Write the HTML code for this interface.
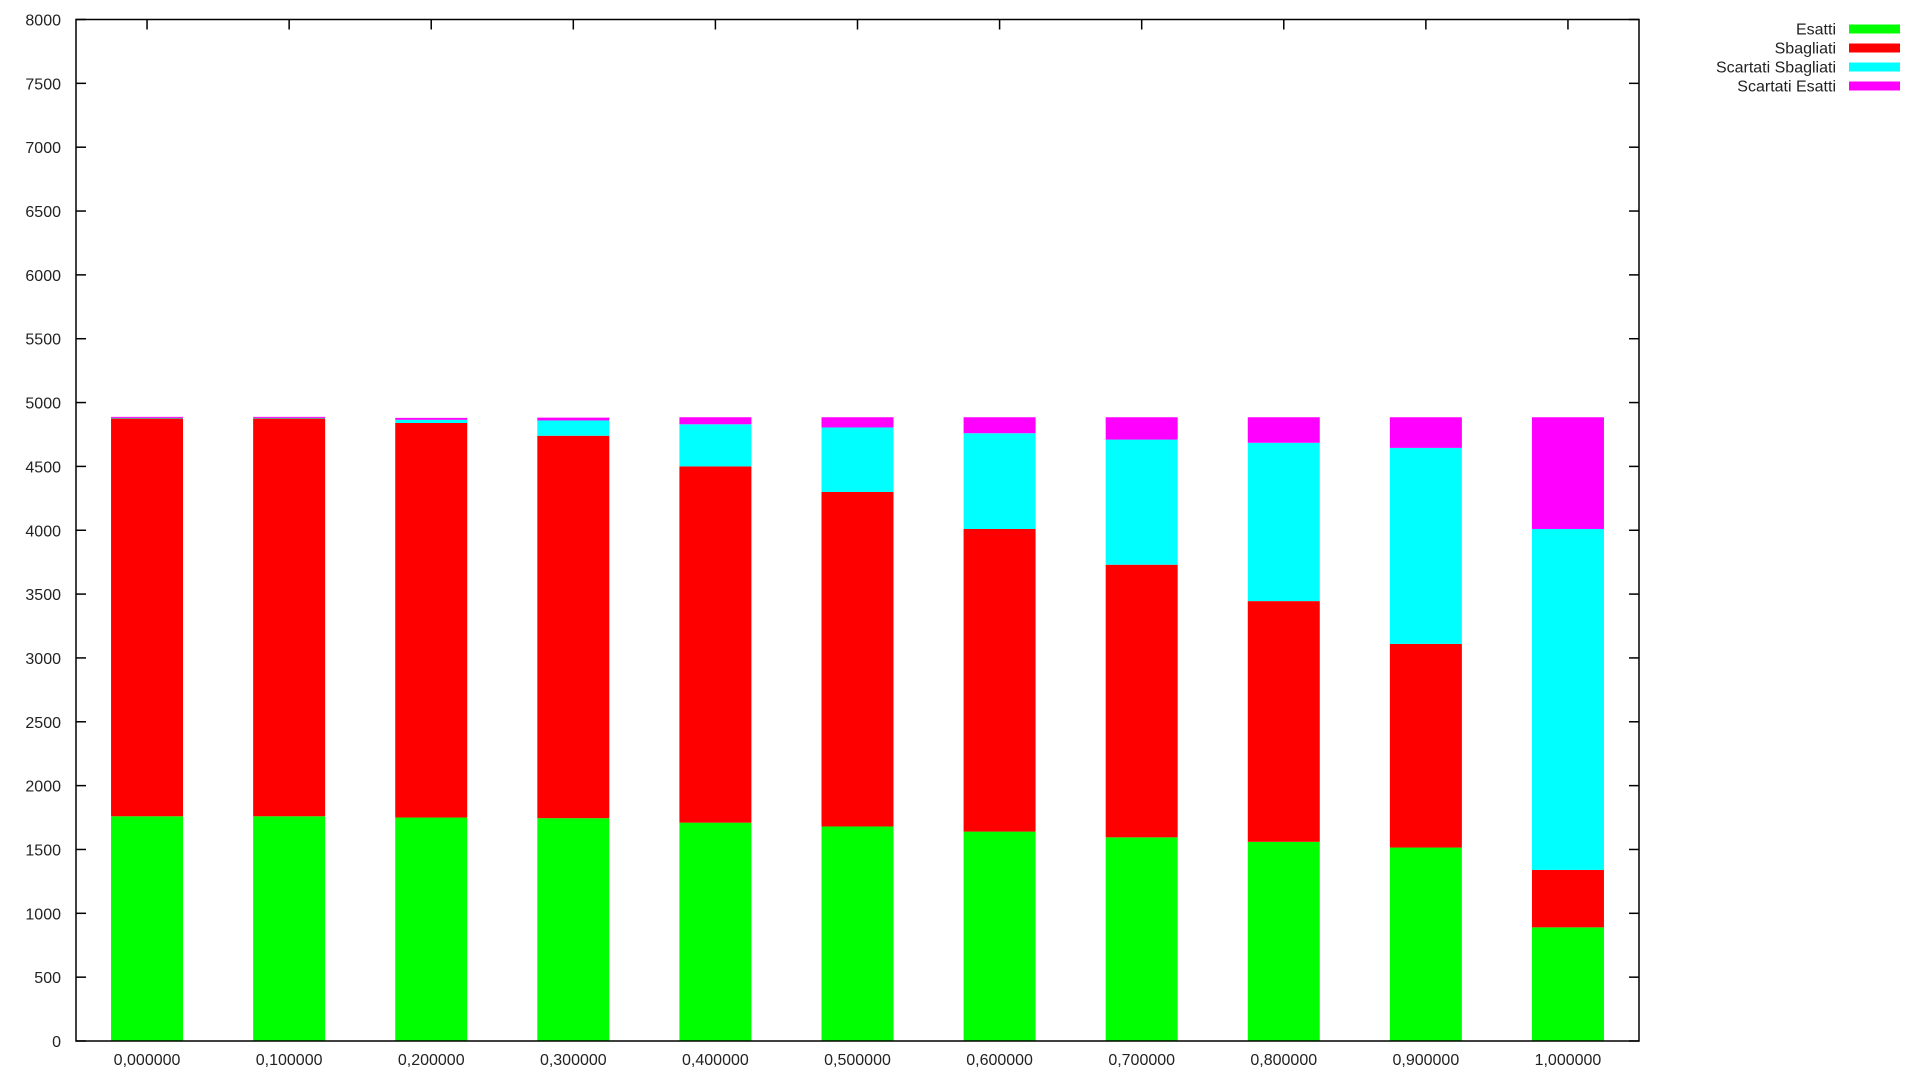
<!DOCTYPE html>
<html><head><meta charset="utf-8"><style>
body{margin:0;background:#fff;width:1920px;height:1080px;overflow:hidden}
svg text{font-family:"Liberation Sans",sans-serif;font-size:16px;fill:#222}
</style></head><body>
<svg id="chart" width="1920" height="1080" xmlns="http://www.w3.org/2000/svg">
<g id="axes"></g><g id="bars"></g><g id="legend"></g>
<rect x="76" y="19.5" width="1563" height="1021.5" fill="none" stroke="#000" stroke-width="1.5"/>
</svg>
<script>
const categories = ["0,000000","0,100000","0,200000","0,300000","0,400000","0,500000","0,600000","0,700000","0,800000","0,900000","1,000000"];
const esatti = [1760,1760,1750,1745,1710,1680,1640,1595,1560,1515,890];
const sbagliati = [3115,3115,3090,2995,2790,2620,2370,2135,1885,1595,450];
const scartatiSbagliati = [5,5,25,120,330,505,750,980,1240,1535,2670];
const scartatiEsatti = [8,8,15,22,55,80,125,175,200,240,875];
const yTicks = [0,500,1000,1500,2000,2500,3000,3500,4000,4500,5000,5500,6000,6500,7000,7500,8000];
const seriesNames = ["Esatti","Sbagliati","Scartati Sbagliati","Scartati Esatti"];
const seriesColors = ["#00ff00","#ff0000","#00ffff","#ff00ff"];
const series = [esatti,sbagliati,scartatiSbagliati,scartatiEsatti];

const L=76,R=1639,T=19.5,B=1041,YMAX=8000;
const band=(R-L)/categories.length, bw=72;
const y=v=>B-v*(B-T)/YMAX;
const xc=i=>L+band*(i+0.5);
const NS="http://www.w3.org/2000/svg";
function mk(tag,attrs,parent){const e=document.createElementNS(NS,tag);for(const k in attrs)e.setAttribute(k,attrs[k]);parent.appendChild(e);return e;}
const axes=document.getElementById('axes'),bars=document.getElementById('bars'),leg=document.getElementById('legend');
yTicks.forEach(t=>{
  const yy=y(t);
  let l=mk('line',{x1:L,x2:L+10,y1:yy,y2:yy,stroke:'#000','stroke-width':1.5},axes);
  
  
  l=mk('line',{x1:R-10,x2:R,y1:yy,y2:yy,stroke:'#000','stroke-width':1.5},axes);
  
  
  const tx=mk('text',{x:L-15,y:yy+6,'text-anchor':'end'},axes);tx.textContent=t;
  
  
});
categories.forEach((c,i)=>{
  const xx=xc(i);
  let l=mk('line',{x1:xx,x2:xx,y1:T,y2:T+10,stroke:'#000','stroke-width':1.5},axes);
  
  
  const tx=mk('text',{x:xx,y:1065,'text-anchor':'middle'},axes);tx.textContent=c;
  
  
  let cum=0;
  series.forEach((s,k)=>{
    const v=s[i];
    const r=mk('rect',{x:xx-bw/2,y:y(cum+v),width:bw,height:y(cum)-y(cum+v),fill:seriesColors[k]},bars);
    
    
    cum+=v;
  });
});
seriesNames.forEach((n,k)=>{
  const yy=29+k*19;
  const tx=mk('text',{x:1836,y:yy+5.5,'text-anchor':'end'},leg);tx.textContent=n;
  
  
  const r=mk('rect',{x:1849,y:yy-4.5,width:51,height:9,fill:seriesColors[k]},leg);
  
  
});
</script>
</body></html>
